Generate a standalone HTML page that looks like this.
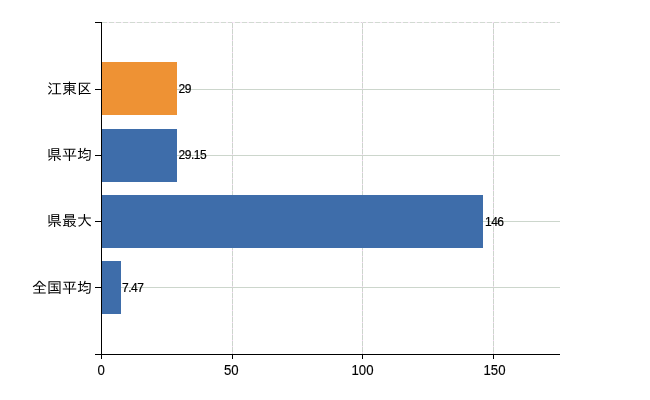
<!DOCTYPE html>
<html lang="ja">
<head>
<meta charset="utf-8">
<title>Chart</title>
<style>
html,body{margin:0;padding:0;background:#fff;}
body{width:650px;height:400px;overflow:hidden;position:relative;}
#chart{position:absolute;left:0;top:0;width:650px;height:400px;background:#fff;overflow:hidden;}
#chart div{position:absolute;}
.gh{left:102px;width:458px;height:1px;background:#ccd6cc;}
.gv{top:22px;width:1px;height:332px;background:repeating-linear-gradient(to bottom,#f3d6f3 0,#f3d6f3 1px,#cdd5cd 1px,#cdd5cd 6px);}
.gt{left:102px;top:22px;width:458px;height:1px;background:repeating-linear-gradient(to right,#d2dad2 0,#d2dad2 5px,#f8eaf8 5px,#f8eaf8 7px);}
.ax{background:#000;}
.bar{left:102px;height:53px;background:#3e6daa;}
.bar.o{background:#ee9234;}
.cat{right:558px;width:90px;height:20px;line-height:20px;text-align:right;white-space:nowrap;
 font-family:"Liberation Sans","IPAGothic","Noto Sans CJK JP",sans-serif;font-size:15px;color:#000;}
.val{height:14px;line-height:14px;white-space:nowrap;
 font-family:"Liberation Sans",sans-serif;font-size:12px;color:#000;letter-spacing:-0.5px;-webkit-text-stroke:0.2px #000;}
.xl{width:40px;height:16px;line-height:16px;text-align:center;white-space:nowrap;
 font-family:"Liberation Sans",sans-serif;font-size:15px;color:#000;-webkit-text-stroke:0.15px #000;}
.xl span{display:inline-block;transform:scaleX(0.88);transform-origin:50% 50%;}
</style>
</head>
<body>
<div id="chart">
  <!-- grid -->
  <div class="gt"></div>
  <div class="gh" style="top:89px"></div>
  <div class="gh" style="top:155px"></div>
  <div class="gh" style="top:221px"></div>
  <div class="gh" style="top:287px"></div>
  <div class="gv" style="left:232px"></div>
  <div class="gv" style="left:362px"></div>
  <div class="gv" style="left:493px"></div>

  <!-- bars -->
  <div class="bar o" style="top:62px;width:75px"></div>
  <div class="bar" style="top:129px;width:75px"></div>
  <div class="bar" style="top:195px;width:381px"></div>
  <div class="bar" style="top:261px;width:19px"></div>

  <!-- value labels -->
  <div class="val" style="left:178.6px;top:82px">29</div>
  <div class="val" style="left:178.6px;top:148px">29.15</div>
  <div class="val" style="left:485px;top:215px">146</div>
  <div class="val" style="left:122px;top:281px">7.47</div>

  <!-- axes -->
  <div class="ax" style="left:101px;top:22px;width:1px;height:337px"></div>
  <div class="ax" style="left:95px;top:354px;width:465px;height:1px"></div>
  <div class="ax" style="left:95px;top:22px;width:7px;height:1px"></div>
  <div class="ax" style="left:95px;top:89px;width:7px;height:1px"></div>
  <div class="ax" style="left:95px;top:155px;width:7px;height:1px"></div>
  <div class="ax" style="left:95px;top:221px;width:7px;height:1px"></div>
  <div class="ax" style="left:95px;top:287px;width:7px;height:1px"></div>
  <div class="ax" style="left:232px;top:354px;width:1px;height:5px"></div>
  <div class="ax" style="left:362px;top:354px;width:1px;height:5px"></div>
  <div class="ax" style="left:493px;top:354px;width:1px;height:5px"></div>

  <!-- category labels -->
  <div class="cat" style="top:79px">江東区</div>
  <div class="cat" style="top:145px">県平均</div>
  <div class="cat" style="top:211px">県最大</div>
  <div class="cat" style="top:278px">全国平均</div>

  <!-- x axis labels -->
  <div class="xl" style="left:81.5px;top:362px"><span>0</span></div>
  <div class="xl" style="left:211.5px;top:362px"><span>50</span></div>
  <div class="xl" style="left:343px;top:362px"><span>100</span></div>
  <div class="xl" style="left:474.5px;top:362px"><span>150</span></div>
</div>
</body>
</html>
